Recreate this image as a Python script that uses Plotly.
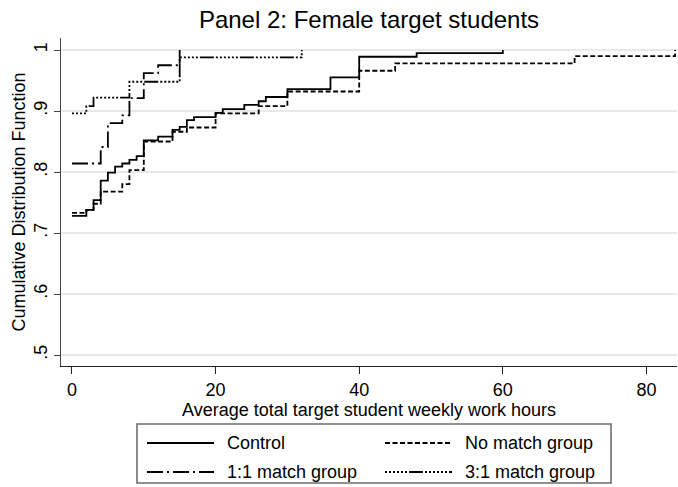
import plotly.graph_objects as go

# ---- data ----
control_x = [0, 2, 3, 4, 5, 6, 7, 8, 9, 10, 12, 14, 15, 16, 17, 20, 21, 24, 26, 27, 30, 36, 40, 48, 60]
control_y = [0.728, 0.738, 0.754, 0.786, 0.799, 0.809, 0.814, 0.820, 0.826, 0.852, 0.858, 0.869, 0.874,
             0.885, 0.890, 0.897, 0.903, 0.910, 0.916, 0.923, 0.936, 0.955, 0.989, 0.995, 1.0]

nomatch_x = [0, 2, 3, 4, 7, 8, 10, 14, 16, 20, 26, 30, 40, 45, 70, 84]
nomatch_y = [0.733, 0.738, 0.748, 0.768, 0.780, 0.803, 0.850, 0.866, 0.873, 0.896, 0.908, 0.932,
             0.966, 0.978, 0.990, 1.0]

oneone_x = [0, 4, 5, 7, 8, 10, 12, 15]
oneone_y = [0.814, 0.841, 0.880, 0.893, 0.921, 0.962, 0.975, 1.0]

threeone_x = [0, 2, 3, 8, 15, 32]
threeone_y = [0.896, 0.908, 0.922, 0.948, 0.988, 1.0]

series_names = ["Control", "No match group", "1:1 match group", "3:1 match group"]
x_ticks = [0, 20, 40, 60, 80]
y_ticks = [0.5, 0.6, 0.7, 0.8, 0.9, 1.0]
y_ticklabels = [".5", ".6", ".7", ".8", ".9", "1"]

# ---- styling ----
FONT = "Liberation Sans, Arial, Helvetica, sans-serif"
dashes = ["solid", "5px,2.5px", "16px,4px,2px,4px",
          "2px,2px,2px,2px,2px,2px,2px,2px,2px,2px,2px,2px,14px,2px"]
LW = 1.8

W, H = 678, 487
ML, MR, MT, MB = 61, 1, 38, 121
PW, PH = W - ML - MR, H - MT - MB


def pxx(px):
    return (px - ML) / PW


def pxy(py):
    return (H - MB - py) / PH


fig = go.Figure()
data = [(control_x, control_y), (nomatch_x, nomatch_y), (oneone_x, oneone_y), (threeone_x, threeone_y)]
for (xs, ys), name, dash in zip(data, series_names, dashes):
    fig.add_trace(go.Scatter(x=xs, y=ys, mode="lines", name=name, line_shape="hv",
                             line=dict(color="black", width=LW, dash=dash), showlegend=False))

# ---- custom legend (box, line samples, labels) ----
shapes = [dict(type="rect", xref="paper", yref="paper", x0=pxx(137), x1=pxx(611), y0=pxy(424), y1=pxy(483),
               line=dict(color="#6e6e6e", width=1.6), fillcolor="white", layer="above")]
annotations = []
leg_pos = [(147, 443), (385, 443), (147, 472), (385, 472)]
for (lx, ly), name, dash in zip(leg_pos, series_names, dashes):
    shapes.append(dict(type="line", xref="paper", yref="paper", x0=pxx(lx), x1=pxx(lx + 67),
                       y0=pxy(ly), y1=pxy(ly), line=dict(color="black", width=LW, dash=dash)))
    annotations.append(dict(text=name, xref="paper", yref="paper", x=pxx(lx + 78), y=pxy(ly),
                            xanchor="left", yanchor="middle", showarrow=False,
                            font=dict(family=FONT, size=18, color="black")))

fig.update_layout(
    width=W, height=H,
    margin=dict(l=ML, r=MR, t=MT, b=MB),
    paper_bgcolor="white", plot_bgcolor="white",
    font=dict(family=FONT, size=18, color="black"),
    title=dict(text="Panel 2: Female target students", x=369 / W, xanchor="center",
               y=1 - 20 / H, yanchor="middle", font=dict(size=24, family=FONT, color="black")),
    shapes=shapes, annotations=annotations,
    showlegend=False,
)
fig.update_xaxes(range=[-1.53, 84.26], tickvals=x_ticks, ticks="outside", ticklen=7, tickcolor="#222",
                 showline=True, linecolor="#222", linewidth=1, showgrid=False, zeroline=False,
                 title=dict(text="Average total target student weekly work hours", standoff=2,
                            font=dict(size=18)),
                 tickfont=dict(size=18))
fig.update_yaxes(range=[0.482, 1.0197], tickvals=y_ticks, ticktext=y_ticklabels, tickangle=-90,
                 ticks="outside", ticklen=6, tickcolor="#444", showline=True, linecolor="#444", linewidth=1,
                 showgrid=True, gridcolor="#e8e8e8", gridwidth=1.6, zeroline=False,
                 title=dict(text="Cumulative Distribution Function", standoff=0, font=dict(size=18)),
                 tickfont=dict(size=18))

fig.write_html("out.html")
